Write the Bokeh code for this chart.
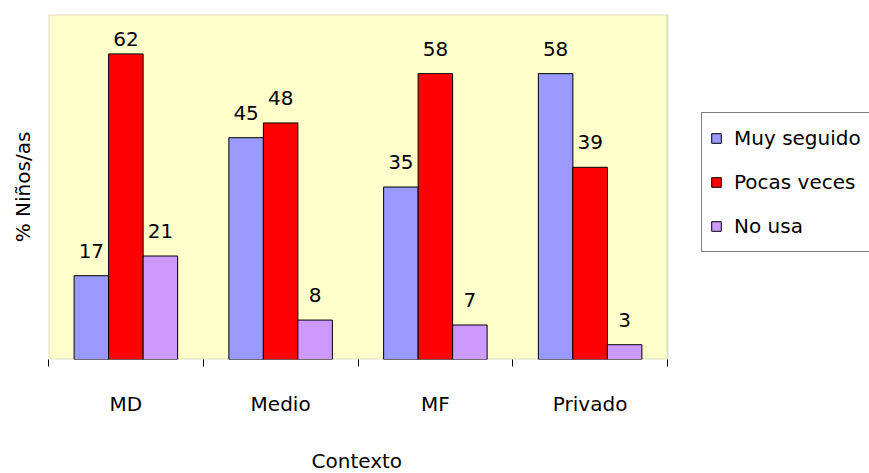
from bokeh.plotting import figure
from bokeh.models import ColumnDataSource, Range1d, FixedTicker, Legend, LegendItem, BoxAnnotation, Title
from bokeh.embed import file_html
from bokeh.resources import INLINE

# ---- data ----
categories = ["MD", "Medio", "MF", "Privado"]
series_names = ["Muy seguido", "Pocas veces", "No usa"]
muy_seguido = [17, 45, 35, 58]
pocas_veces = [62, 48, 58, 39]
no_usa = [21, 8, 7, 3]
colors = ["#9999FF", "#FF0000", "#CC99FF"]
x_title = "Contexto"
y_title = "% Niños/as"

FONT = "DejaVu Sans"
FS = "20px"

# frame spans to the right edge so the legend can sit inside it;
# the chart area itself (0..4 categories) is drawn as a box annotation
n = len(categories)
x_end = n * 821 / 619

p = figure(width=869, height=473, output_backend="svg", toolbar_location=None,
           x_range=Range1d(0, x_end), y_range=Range1d(0, 70),
           min_border_left=48, min_border_right=0, min_border_top=14, min_border_bottom=114)

p.background_fill_color = "white"
p.border_fill_color = "white"
p.outline_line_color = None
p.xgrid.grid_line_color = None
p.ygrid.grid_line_color = None

area = BoxAnnotation(left=0, right=n, bottom=0, top=70, fill_color="#FFFFCC", fill_alpha=1.0,
                     line_color="#8C8C8C", line_width=2, level="underlay")
p.add_layout(area)

bar_w = 0.223
offsets = [-bar_w, 0.0, bar_w]
renderers = []
for vals, off, col in zip([muy_seguido, pocas_veces, no_usa], offsets, colors):
    xs = [i + 0.5 + off for i in range(n)]
    src = ColumnDataSource(dict(x=xs, top=vals,
                                ly=[min(v + 5.1, 65.0) for v in vals],
                                txt=[str(v) for v in vals]))
    r = p.vbar(x="x", top="top", bottom=0, width=bar_w, source=src,
               fill_color=col, line_color="black", line_width=1)
    renderers.append(r)
    p.text(x="x", y="ly", text="txt", source=src, text_align="center",
           text_baseline="alphabetic", text_font_size=FS, text_color="black",
           text_font={"value": FONT})

# x axis: labels at category centres, tick marks at boundaries
xa = p.xaxis[0]
xa.ticker = FixedTicker(ticks=[i + 0.5 for i in range(n)], minor_ticks=list(range(n + 1)))
xa.major_label_overrides = {i + 0.5: c for i, c in enumerate(categories)}
xa.major_tick_in = 0
xa.major_tick_out = 0
xa.minor_tick_in = 0
xa.minor_tick_out = 7
xa.minor_tick_line_color = "black"
xa.axis_line_color = None
xa.major_label_text_font = FONT
xa.major_label_text_font_size = FS
xa.major_label_text_color = "black"
xa.major_label_standoff = 25

# spacer panel, then the x-axis title centred under the chart area
p.add_layout(Title(text=" ", standoff=24, text_font_size="1px"), "below")
p.add_layout(Title(text=x_title, align="left", offset=263, standoff=2,
                   text_font=FONT, text_font_size=FS, text_font_style="normal",
                   text_color="black"), "below")

ya = p.yaxis[0]
ya.ticker = FixedTicker(ticks=[])
ya.major_tick_in = 0
ya.major_tick_out = 0
ya.minor_tick_in = 0
ya.minor_tick_out = 0
ya.axis_line_color = None
ya.major_label_standoff = 0
ya.major_label_text_font_size = "0px"
ya.axis_label = y_title
ya.axis_label_text_font = FONT
ya.axis_label_text_font_size = FS
ya.axis_label_text_font_style = "normal"
ya.axis_label_text_color = "black"
ya.axis_label_standoff = 14

legend = Legend(items=[LegendItem(label=s, renderers=[r]) for s, r in zip(series_names, renderers)],
                location=(653, 107), orientation="vertical",
                glyph_width=12, glyph_height=12, label_standoff=12,
                label_height=34, spacing=10, padding=8, margin=0,
                label_text_font=FONT, label_text_font_size=FS, label_text_color="black",
                border_line_color="black", border_line_width=1,
                background_fill_color="white", background_fill_alpha=1.0)
p.add_layout(legend, "center")

open("out.html", "w").write(file_html(p, INLINE))
